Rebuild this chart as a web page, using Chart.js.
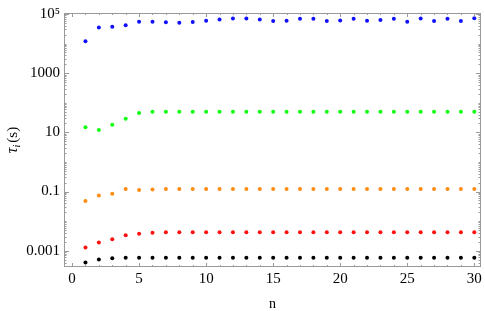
<!DOCTYPE html>
<html>
<head>
<meta charset="utf-8">
<script src="https://cdn.jsdelivr.net/npm/chart.js@4.4.0/dist/chart.umd.min.js"></script>
<style>
  html, body { margin: 0; padding: 0; background: #fff; }
  #wrap { width: 485px; height: 311px; }
</style>
</head>
<body>
<div id="wrap"><canvas id="tauChart"></canvas></div>
<script>
// n values (x categories)
var n = [1, 2, 3, 4, 5, 6, 7, 8, 9, 10, 11, 12, 13, 14, 15, 16, 17, 18, 19, 20, 21, 22, 23, 24, 25, 26, 27, 28, 29, 30];

// relaxation times tau_i (s)
var tauBlue = [12100, 34700, 37400, 41400, 55000, 55000, 52100, 50900, 53300, 59300, 65600, 70800, 70800, 65600, 57500,
               59300, 69200, 69200, 57500, 60700, 69200, 59300, 62100, 69200, 55000, 70800, 57500, 69200, 57500, 72400];
var tauGreen = [14.9, 12.1, 18.2, 28.8, 44.7, 49.4, 50, 50, 50, 50, 50, 50, 50, 50, 50,
                50, 50, 50, 50, 50, 50, 50, 50, 50, 50, 50, 50, 50, 50, 50];
var tauOrange = [0.048, 0.074, 0.085, 0.121, 0.112, 0.118, 0.121, 0.121, 0.121, 0.121, 0.121, 0.121, 0.121, 0.121, 0.121,
                 0.121, 0.121, 0.121, 0.121, 0.121, 0.121, 0.121, 0.121, 0.121, 0.121, 0.121, 0.121, 0.121, 0.121, 0.121];
var tauRed = [0.00129, 0.00188, 0.00242, 0.00336, 0.00374, 0.00407, 0.0042, 0.0042, 0.0042, 0.0042, 0.0042, 0.0042, 0.0042, 0.0042, 0.0042,
              0.0042, 0.0042, 0.0042, 0.0042, 0.0042, 0.0042, 0.0042, 0.0042, 0.0042, 0.0042, 0.0042, 0.0042, 0.0042, 0.0042, 0.0042];
var tauBlack = [0.000404, 0.000509, 0.000554, 0.000575, 0.000575, 0.000575, 0.000575, 0.000575, 0.000575, 0.000575, 0.000575, 0.000575, 0.000575, 0.000575, 0.000575,
                0.000575, 0.000575, 0.000575, 0.000575, 0.000575, 0.000575, 0.000575, 0.000575, 0.000575, 0.000575, 0.000575, 0.000575, 0.000575, 0.000575, 0.000575];

// tick labels
var yTickValues = [0.001, 0.1, 10, 1000, 100000];
var yTickLabels = ['0.001', '0.1', '10', '1000', '10\u2075'];
var xTickValues = [0, 5, 10, 15, 20, 25, 30];
var xTitle = 'n';

var frameColor = '#9a9a9a';
var serif = '"Liberation Serif", "DejaVu Serif", serif';

function pts(ys) {
  return n.map(function (v, i) { return { x: v, y: ys[i] }; });
}

function dotSet(label, ys, color) {
  return {
    label: label,
    data: pts(ys),
    showLine: false,
    pointRadius: 2,
    pointBorderWidth: 0,
    pointBackgroundColor: color,
    pointBorderColor: color
  };
}

// frame, inward ticks and y title (Mathematica style)
var framePlugin = {
  id: 'frame',
  afterDraw: function (chart) {
    var ctx = chart.ctx, a = chart.chartArea;
    var xs = chart.scales.x, ys = chart.scales.y;
    ctx.save();
    ctx.strokeStyle = frameColor;
    ctx.lineWidth = 1;
    ctx.strokeRect(a.left + 0.5, a.top + 0.5, a.right - a.left - 1, a.bottom - a.top - 1);
    ctx.beginPath();
    ys.ticks.forEach(function (t) {
      var p = Math.round(ys.getPixelForValue(t.value)) + 0.5;
      if (p < a.top || p > a.bottom) return;
      var len = t.major ? 5 : 2.5;
      ctx.moveTo(a.left, p); ctx.lineTo(a.left + len, p);
      ctx.moveTo(a.right, p); ctx.lineTo(a.right - len, p);
    });
    xs.ticks.forEach(function (t) {
      var p = Math.round(xs.getPixelForValue(t.value)) + 0.5;
      if (p < a.left || p > a.right) return;
      var len = (t.value % 5 === 0) ? 4 : 2;
      ctx.moveTo(p, a.bottom); ctx.lineTo(p, a.bottom - len);
      ctx.moveTo(p, a.top); ctx.lineTo(p, a.top + len);
    });
    ctx.stroke();

    // y axis title: tau_i (s)
    ctx.translate(12, (a.top + a.bottom) / 2);
    ctx.rotate(-Math.PI / 2);
    ctx.fillStyle = '#000';
    ctx.textBaseline = 'alphabetic';
    var f1 = 'italic 16px ' + serif, f2 = 'italic 10px ' + serif, f3 = '15px ' + serif;
    ctx.font = f1; var w1 = ctx.measureText('\u03c4').width;
    ctx.font = f2; var w2 = ctx.measureText('i').width;
    ctx.font = f3; var w3 = ctx.measureText('(s)').width;
    var x0 = -(w1 + w2 + 2 + w3) / 2, base = 5;
    ctx.font = f1; ctx.fillText('\u03c4', x0, base);
    ctx.font = f2; ctx.fillText('i', x0 + w1, base + 3);
    ctx.font = f3; ctx.fillText('(s)', x0 + w1 + w2 + 2, base);
    ctx.restore();
  }
};

new Chart(document.getElementById('tauChart'), {
  type: 'scatter',
  data: {
    datasets: [
      dotSet('blue', tauBlue, '#1010ff'),
      dotSet('green', tauGreen, '#10ff10'),
      dotSet('orange', tauOrange, '#ff8c10'),
      dotSet('red', tauRed, '#ff1010'),
      dotSet('black', tauBlack, '#000000')
    ]
  },
  options: {
    responsive: true,
    maintainAspectRatio: false,
    animation: false,
    layout: { padding: { top: 9, right: 3, left: 0, bottom: 0 } },
    plugins: { legend: { display: false }, tooltip: { enabled: false } },
    scales: {
      x: {
        type: 'linear',
        min: -0.6,
        max: 30.5,
        afterFit: function (s) { s.height = 44; },
        afterBuildTicks: function (s) {
          var t = [];
          for (var v = 0; v <= 30; v++) t.push({ value: v });
          s.ticks = t;
        },
        grid: { display: false, drawTicks: false },
        border: { display: false },
        ticks: {
          autoSkip: false,
          maxRotation: 0,
          padding: 3,
          color: '#000',
          font: { family: serif, size: 15 },
          callback: function (v) { return xTickValues.indexOf(v) >= 0 ? String(v) : ''; }
        },
        title: {
          display: true,
          text: xTitle,
          color: '#000',
          font: { family: serif, size: 14, lineHeight: 1.0 },
          padding: { top: 0, bottom: 0 }
        }
      },
      y: {
        type: 'logarithmic',
        min: 2.82e-4,
        max: 1.08e5,
        afterFit: function (s) { s.width = 64; },
        afterBuildTicks: function (s) {
          var t = [];
          for (var k = -4; k <= 5; k++) {
            for (var c = 1; c <= 9; c++) {
              var v = c * Math.pow(10, k);
              if (v >= s.min && v <= s.max) t.push({ value: v, major: c === 1 && Math.abs(k % 2) === 1 });
            }
          }
          s.ticks = t;
        },
        grid: { display: false, drawTicks: false },
        border: { display: false },
        ticks: {
          autoSkip: false,
          padding: 4,
          color: '#000',
          font: { family: serif, size: 15 },
          callback: function (v) {
            for (var i = 0; i < yTickValues.length; i++) {
              if (Math.abs(Math.log10(v) - Math.log10(yTickValues[i])) < 1e-6) return yTickLabels[i];
            }
            return '';
          }
        }
      }
    }
  },
  plugins: [framePlugin]
});
</script>
</body>
</html>
